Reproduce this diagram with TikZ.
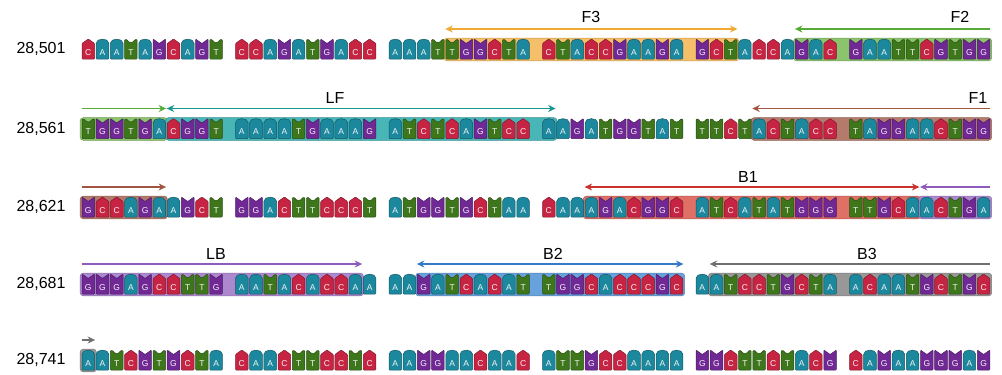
\documentclass[tikz,border=0pt]{standalone}
\usepackage{fontspec}
\setmainfont{Liberation Sans}
\usetikzlibrary{arrows.meta}
\definecolor{cA}{RGB}{28,136,158}
\definecolor{cC}{RGB}{198,36,66}
\definecolor{cG}{RGB}{112,40,148}
\definecolor{cT}{RGB}{62,118,28}
% highlight fills
\definecolor{hF3}{RGB}{245,192,105}
\definecolor{hF2}{RGB}{140,196,110}
\definecolor{hLF}{RGB}{72,182,182}
\definecolor{hF1}{RGB}{180,122,108}
\definecolor{hB1}{RGB}{222,112,102}
\definecolor{hLB}{RGB}{172,136,206}
\definecolor{hB2}{RGB}{104,162,220}
\definecolor{hB3}{RGB}{152,152,152}
% arrow colours
\definecolor{aF3}{RGB}{240,170,50}
\definecolor{aF2}{RGB}{84,170,52}
\definecolor{aLF}{RGB}{22,150,145}
\definecolor{aF1}{RGB}{160,86,66}
\definecolor{aB1}{RGB}{202,50,45}
\definecolor{aLB}{RGB}{142,92,186}
\definecolor{aB2}{RGB}{52,122,200}
\definecolor{aB3}{RGB}{112,112,112}

\makeatletter
\newcounter{bidx}
\def\bpx#1{(82+floor(#1/10)*153.5+mod(#1,10)*14.2)}
\newcommand\seqrow[3]{\def\rowid{#1}\def\rowy{#2}\setcounter{bidx}{0}\seq@loop#3\relax}
\def\seq@loop#1{\ifx#1\relax\else\seq@draw#1\stepcounter{bidx}\expandafter\seq@loop\fi}
\def\seq@draw#1{%
  \pgfmathsetmacro\bx{82+floor(\thebidx/10)*153.5+mod(\thebidx,10)*14.2}%
  \csname glyph@#1\endcsname
  \node[lett] (b\rowid-\thebidx) at ({\bx+6.3},{\rowy+3.3}) {#1};}
\def\glyph@A{\path[glyph, fill=cA, draw=cA!65!black] (\bx,{\rowy+10}) -- (\bx,{\rowy-5}) .. controls (\bx,{\rowy-11.2}) and ({\bx+12.6},{\rowy-11.2}) .. ({\bx+12.6},{\rowy-5}) -- ({\bx+12.6},{\rowy+10}) -- cycle;}
\def\glyph@C{\path[glyph, fill=cC, draw=cC!65!black] (\bx,{\rowy+10}) -- (\bx,{\rowy-5.5}) -- ({\bx+6.3},{\rowy-10}) -- ({\bx+12.6},{\rowy-5.5}) -- ({\bx+12.6},{\rowy+10}) -- cycle;}
\def\glyph@G{\path[glyph, fill=cG, draw=cG!65!black] (\bx,{\rowy+10}) -- (\bx,{\rowy-10}) -- ({\bx+6.3},{\rowy-5.5}) -- ({\bx+12.6},{\rowy-10}) -- ({\bx+12.6},{\rowy+10}) -- cycle;}
\def\glyph@T{\path[glyph, fill=cT, draw=cT!65!black] (\bx,{\rowy+10}) -- (\bx,{\rowy-9.5}) -- ({\bx+2.4},{\rowy-9.5}) .. controls ({\bx+4},{\rowy-5.8}) and ({\bx+8.6},{\rowy-5.8}) .. ({\bx+10.2},{\rowy-9.5}) -- ({\bx+12.6},{\rowy-9.5}) -- ({\bx+12.6},{\rowy+10}) -- cycle;}
\makeatother

\newcommand\hlbox[4]{%
  \pgfmathsetmacro\hxs{82+floor(#2/10)*153.5+mod(#2,10)*14.2-1.8}%
  \pgfmathsetmacro\hxe{82+floor(#3/10)*153.5+mod(#3,10)*14.2+12.6+1.8}%
  \path[fill=#4, draw=#4!80!black, line width=0.5pt, rounded corners=3pt] (\hxs,{#1-10.8}) rectangle (\hxe,{#1+11.8});}
\newcommand\rng[6]{%
  \pgfmathsetmacro\hxs{82+floor(#2/10)*153.5+mod(#2,10)*14.2-0.5}%
  \pgfmathsetmacro\hxe{82+floor(#3/10)*153.5+mod(#3,10)*14.2+12.6+0.5}%
  \coordinate (#6-l) at (\hxs,{#1-20});
  \coordinate (#6-r) at (\hxe,{#1-20});
  \draw[rngline, draw=#4, #5] (#6-l) -- (#6-r);}

\begin{document}
\begin{tikzpicture}[x=1pt,y=-1pt,
  >={Stealth[length=7.5pt,width=7pt]},
  lett/.style={font=\fontsize{8.5}{9}\selectfont, text=white!92!gray, inner sep=0pt},
  rowlab/.style={font=\fontsize{16}{18}\selectfont, inner sep=0pt},
  plab/.style={font=\fontsize{16}{18}\selectfont, inner sep=0pt},
  rngline/.style={line width=1.2pt},
  glyph/.style={line width=0.5pt, rounded corners=0.8pt}]
\useasboundingbox[fill=white] (0,0) rectangle (1002,375);

% highlight boxes
\hlbox{49}{24}{42}{hF3}
\hlbox{49}{47}{59}{hF2}
\hlbox{128.5}{0}{5}{hF2}
\hlbox{128.5}{6}{30}{hLF}
\hlbox{128.5}{44}{59}{hF1}
\hlbox{207}{0}{5}{hF1}
\hlbox{207}{33}{54}{hB1}
\hlbox{207}{55}{59}{hLB}
\hlbox{284}{0}{18}{hLB}
\hlbox{284}{22}{39}{hB2}
\hlbox{284}{41}{59}{hB3}
\hlbox{360}{0}{0}{hB3}

% sequences
\seqrow{1}{49}{CAATAGCAGTCCAGATGACCAAATTGGCTACTACCGAAGAGCTACCAGACGAATTCGTGG}
\seqrow{2}{128.5}{TGGTGACGGTAAAATGAAAGATCTCAGTCCAAGATGGTATTTCTACTACCTAGGAACTGG}
\seqrow{3}{207}{GCCAGAAGCTGGACTTCCCTATGGTGCTAACAAAGACGGCATCATATGGGTTGCAACTGA}
\seqrow{4}{284}{GGGAGCCTTGAATACACCAAAAGATCACATTGGCACCCGCAATCCTGCTAACAATGCTGC}
\seqrow{5}{360}{AATCGTGCTACAACTTCCTCAAGGAACAACATTGCCAAAAGGCTTCTACGCAGAAGGGAG}

% row labels
\node[rowlab] (r1) at (41,49) {28,501};
\node[rowlab] (r2) at (41,128.5) {28,561};
\node[rowlab] (r3) at (41,207) {28,621};
\node[rowlab] (r4) at (41,284) {28,681};
\node[rowlab] (r5) at (41,360) {28,741};

% range arrows
\rng{49}{24}{42}{aF3}{<->}{F3}
\rng{49}{47}{59}{aF2}{<-}{F2a}
\rng{128.5}{0}{5}{aF2}{->}{F2b}
\rng{128.5}{6}{30}{aLF}{<->}{LF}
\rng{128.5}{44}{59}{aF1}{<-}{F1a}
\rng{207}{0}{5}{aF1}{->}{F1b}
\rng{207}{33}{54}{aB1}{<->}{B1}
\rng{207}{55}{59}{aLB}{<-}{LBa}
\rng{284}{0}{18}{aLB}{->}{LBb}
\rng{284}{22}{39}{aB2}{<->}{B2}
\rng{284}{41}{59}{aB3}{<-}{B3a}
\rng{360}{0}{0}{aB3}{->}{B3b}

% primer labels
\node[plab] (lF3) at (591,17) {F3};
\node[plab] (lF2) at (960,17) {F2};
\node[plab] (lLF) at (335,98) {LF};
\node[plab] (lF1) at (978,98) {F1};
\node[plab] (lB1) at (748,177) {B1};
\node[plab] (lLB) at (216,254) {LB};
\node[plab] (lB2) at (553,254) {B2};
\node[plab] (lB3) at (867,254) {B3};
\end{tikzpicture}
\end{document}
